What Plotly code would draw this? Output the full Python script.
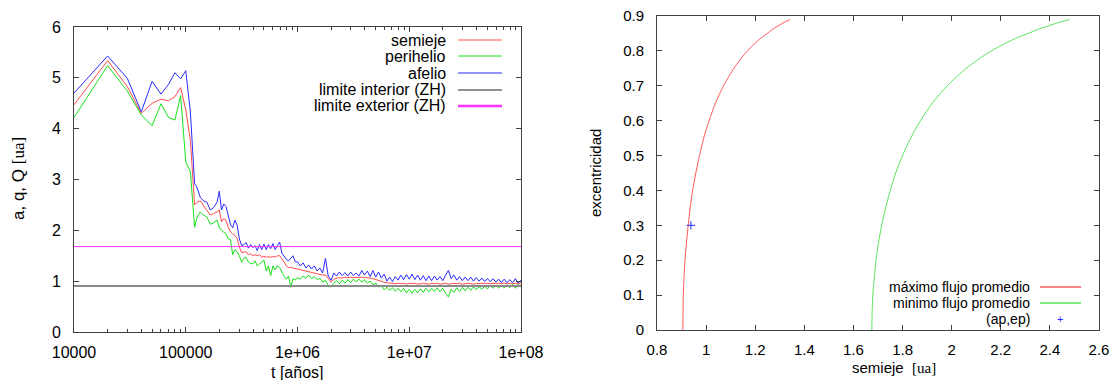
import plotly.graph_objects as go

# ---------------- Left panel data ----------------
t_early = [1e4, 2e4, 3e4, 4e4, 5e4, 6e4, 7e4, 8e4, 9e4, 1e5, 1.1e5, 1.2e5]
logt_late = [5.10, 5.13, 5.16, 5.19, 5.22, 5.25, 5.28, 5.30, 5.32, 5.34, 5.36, 5.38, 5.40, 5.42,
             5.44, 5.46, 5.48, 5.50, 5.52, 5.54, 5.56, 5.58, 5.60, 5.62, 5.64, 5.66, 5.68, 5.70,
             5.72, 5.74, 5.76, 5.78, 5.80, 5.82, 5.84, 5.86, 5.88, 5.90, 5.92, 5.94, 5.96, 5.98,
             6.000, 6.025, 6.050, 6.075, 6.100, 6.125, 6.150, 6.175, 6.200, 6.225, 6.250, 6.275,
             6.300, 6.325, 6.350, 6.375, 6.400, 6.425, 6.450, 6.475, 6.500, 6.525, 6.550, 6.575,
             6.600, 6.625, 6.650, 6.675, 6.700, 6.725, 6.750, 6.775, 6.800, 6.825, 6.850, 6.875,
             6.900, 6.925, 6.950, 6.975, 7.000, 7.025, 7.050, 7.075, 7.100, 7.125, 7.150, 7.175,
             7.200, 7.225, 7.250, 7.275, 7.300, 7.325, 7.350, 7.375, 7.400, 7.425, 7.450, 7.475,
             7.500, 7.525, 7.550, 7.575, 7.600, 7.625, 7.650, 7.675, 7.700, 7.725, 7.750, 7.775,
             7.800, 7.825, 7.850, 7.875, 7.900, 7.925, 7.950, 7.975, 8.000]

semieje = [4.47, 5.34, 4.83, 4.30, 4.50, 4.58, 4.55, 4.63, 4.81, 4.37, 3.77, 2.50,
           2.55, 2.58, 2.48, 2.40, 2.30, 2.33, 2.36, 2.40, 2.17, 2.23, 2.20, 2.06, 1.97, 1.93,
           1.90, 1.84, 1.67, 1.56, 1.57, 1.58, 1.52, 1.54, 1.50, 1.52, 1.50, 1.52, 1.47, 1.49,
           1.47, 1.48, 1.47, 1.49, 1.47, 1.50, 1.50, 1.45, 1.38, 1.30, 1.27, 1.27, 1.26, 1.25,
           1.24, 1.22, 1.21, 1.19, 1.18, 1.17, 1.16, 1.15, 1.14, 1.12, 1.12, 1.05,
           0.98, 1.04, 1.05, 1.07, 1.06, 1.08, 1.07, 1.08, 1.07, 1.08, 1.07, 1.08,
           1.07, 1.07, 1.06, 1.05, 1.03, 1.02, 1.00, 0.98, 0.97, 0.96, 0.96, 0.95,
           0.96, 0.95, 0.96, 0.94, 0.96, 0.95, 0.96, 0.94, 0.95, 0.96, 0.95, 0.94,
           0.96, 0.95, 0.96, 0.94, 0.95, 0.96, 0.94, 0.95, 0.96, 0.95, 0.96, 0.94,
           0.95, 0.96, 0.95, 0.94, 0.96, 0.95, 0.96, 0.95, 0.96, 0.95, 0.96, 0.95,
           0.96, 0.95, 0.96, 0.95, 0.96, 0.95, 0.96, 0.95, 0.96]

perihelio = [4.22, 5.24, 4.74, 4.27, 4.06, 4.49, 4.22, 4.17, 4.65, 3.35, 3.15, 2.06,
             2.25, 2.36, 2.30, 2.26, 2.12, 2.15, 2.20, 2.06, 2.00, 1.96, 1.93, 1.83, 1.82, 1.52,
             1.62, 1.58, 1.50, 1.37, 1.45, 1.47, 1.38, 1.35, 1.34, 1.40, 1.30, 1.34, 1.38, 1.41,
             1.20, 1.30, 1.11, 1.30, 1.22, 1.30, 1.27, 1.17, 1.10, 1.04, 1.10, 0.88, 1.05, 1.02,
             1.07, 1.04, 1.10, 1.06, 1.12, 1.05, 1.09, 1.03, 1.06, 0.98, 1.02, 0.92,
             0.88, 0.96, 1.01, 0.95, 1.02, 0.96, 1.03, 0.97, 1.04, 0.99, 1.04, 0.98,
             1.03, 0.96, 1.00, 0.93, 0.96, 0.88, 0.92, 0.83, 0.88, 0.82, 0.87, 0.80,
             0.86, 0.79, 0.86, 0.77, 0.84, 0.76, 0.84, 0.77, 0.85, 0.78, 0.86, 0.79,
             0.86, 0.80, 0.87, 0.79, 0.86, 0.76, 0.69, 0.84, 0.78, 0.87, 0.80, 0.88,
             0.81, 0.88, 0.82, 0.89, 0.83, 0.89, 0.84, 0.90, 0.85, 0.91, 0.86, 0.92,
             0.86, 0.92, 0.87, 0.93, 0.87, 0.94, 0.86, 0.94, 0.88]

afelio = [4.70, 5.43, 4.99, 4.33, 4.93, 4.68, 4.87, 5.10, 4.98, 5.14, 4.33, 2.92,
          2.85, 2.65, 2.58, 2.55, 2.40, 2.45, 2.55, 2.77, 2.40, 2.52, 2.47, 2.26, 2.12, 2.05,
          2.20, 2.10, 1.83, 1.70, 1.72, 1.76, 1.65, 1.72, 1.66, 1.70, 1.60, 1.72, 1.62, 1.73,
          1.62, 1.72, 1.64, 1.74, 1.62, 1.70, 1.77, 1.55, 1.48, 1.43, 1.40, 1.45, 1.50, 1.38,
          1.38, 1.30, 1.36, 1.26, 1.32, 1.24, 1.30, 1.20, 1.26, 1.16, 1.45, 1.10,
          1.02, 1.16, 1.10, 1.18, 1.11, 1.17, 1.10, 1.18, 1.11, 1.16, 1.10, 1.21,
          1.12, 1.20, 1.09, 1.21, 1.08, 1.18, 1.06, 1.14, 1.00, 1.08, 0.99, 1.09,
          1.02, 1.12, 1.03, 1.13, 1.04, 1.14, 1.03, 1.12, 1.02, 1.11, 1.01, 1.10,
          1.01, 1.10, 1.02, 1.09, 1.01, 1.12, 1.21, 1.05, 1.12, 1.02, 1.09, 1.01,
          1.08, 1.01, 1.08, 1.00, 1.07, 1.00, 1.06, 0.99, 1.05, 0.99, 1.05, 0.98,
          1.04, 0.97, 1.04, 0.97, 1.03, 0.97, 1.05, 0.96, 1.02]

limite_interior = 0.905
limite_exterior = 1.68
x_tickvals = [1e4, 1e5, 1e6, 1e7, 1e8]
x_ticktext = ["10000", "100000", "1e+06", "1e+07", "1e+08"]
x_minor_tickvals = [m * d for d in [1e4, 1e5, 1e6, 1e7] for m in [2, 3, 4, 5, 6, 7, 8, 9]]

# ---------------- Right panel data ----------------
exc = [0.0, 0.05, 0.10, 0.15, 0.20, 0.25, 0.30, 0.35, 0.40, 0.45, 0.50, 0.55, 0.60,
       0.65, 0.70, 0.75, 0.76, 0.78, 0.80, 0.82, 0.84, 0.85, 0.86, 0.87, 0.88, 0.89]
a_max_flujo = [0.905, 0.906, 0.907, 0.910, 0.914, 0.920, 0.927, 0.935, 0.945, 0.958, 0.973,
               0.990, 1.012, 1.038, 1.071, 1.113, 1.123, 1.144, 1.168, 1.196, 1.229, 1.249,
               1.267, 1.289, 1.313, 1.342]
a_min_flujo = [1.675, 1.676, 1.679, 1.685, 1.692, 1.702, 1.715, 1.731, 1.750, 1.772, 1.800,
               1.833, 1.873, 1.921, 1.982, 2.059, 2.078, 2.117, 2.162, 2.214, 2.274, 2.312,
               2.345, 2.386, 2.430, 2.480]
ap = [0.938]
ep = [0.30]

# ---------------- figure ----------------
W, H = 1111, 380
SANS = "Liberation Sans, Arial, sans-serif"
RED, GREEN, BLUE = "#ff4c4c", "#18e018", "#2a2aff"
RED2, GREEN2 = "#ff5a5a", "#5ce65c"
FRAME = "#404040"

def px(x):
    return x / W

def py(y):
    return 1 - y / H

t_all = t_early + [10 ** v for v in logt_late]

fig = go.Figure()
fig.add_trace(go.Scatter(x=t_all, y=semieje, mode="lines", line=dict(color=RED, width=1),
                         name="semieje", xaxis="x", yaxis="y"))
fig.add_trace(go.Scatter(x=t_all, y=perihelio, mode="lines", line=dict(color=GREEN, width=1),
                         name="perihelio", xaxis="x", yaxis="y"))
fig.add_trace(go.Scatter(x=t_all, y=afelio, mode="lines", line=dict(color=BLUE, width=1),
                         name="afelio", xaxis="x", yaxis="y"))
fig.add_trace(go.Scatter(x=[1e4, 1e8], y=[limite_interior] * 2, mode="lines",
                         line=dict(color="#8a8a8a", width=2),
                         name="limite interior (ZH)", xaxis="x", yaxis="y"))
fig.add_trace(go.Scatter(x=[1e4, 1e8], y=[limite_exterior] * 2, mode="lines",
                         line=dict(color="#ff33ff", width=1),
                         name="limite exterior (ZH)", xaxis="x", yaxis="y"))

fig.add_trace(go.Scatter(x=a_max_flujo, y=exc, mode="lines",
                         line=dict(color=RED2, width=1, shape="spline", smoothing=0.8),
                         name="máximo flujo promedio", xaxis="x2", yaxis="y2"))
fig.add_trace(go.Scatter(x=a_min_flujo, y=exc, mode="lines",
                         line=dict(color=GREEN2, width=1, shape="spline", smoothing=0.8),
                         name="minimo flujo promedio", xaxis="x2", yaxis="y2"))
fig.add_trace(go.Scatter(x=ap, y=ep, mode="markers",
                         marker=dict(symbol="cross-thin", size=6, line=dict(color="#2a2aff", width=1)),
                         name="(ap,ep)", xaxis="x2", yaxis="y2"))

axis_common = dict(showline=True, linecolor=FRAME, linewidth=1, mirror="allticks",
                   ticks="inside", tickcolor=FRAME, showgrid=False, zeroline=False,
                   automargin=False)

fig.update_layout(
    width=W, height=H, autosize=False,
    margin=dict(l=0, r=0, t=0, b=0, autoexpand=False),
    paper_bgcolor="white", plot_bgcolor="white",
    showlegend=False,
    xaxis=dict(axis_common, type="log", range=[4, 8], domain=[px(74), px(521)],
               tickvals=x_tickvals, ticktext=x_ticktext, ticklen=5,
               tickfont=dict(family=SANS, size=16, color="#000"), ticklabelstandoff=6,
               minor=dict(ticks="inside", ticklen=3, tickcolor=FRAME, showgrid=False,
                          tickmode="array", tickvals=x_minor_tickvals),
               anchor="y"),
    yaxis=dict(axis_common, range=[0, 6], dtick=1, domain=[py(332), py(27)], ticklen=5,
               tickfont=dict(family=SANS, size=16, color="#000"), ticklabelstandoff=9,
               anchor="x"),
    xaxis2=dict(axis_common, range=[0.8, 2.6], dtick=0.2, domain=[px(657), px(1099)], ticklen=5,
                tickfont=dict(family=SANS, size=15, color="#000"), ticklabelstandoff=6,
                anchor="y2"),
    yaxis2=dict(axis_common, range=[0, 0.9], dtick=0.1, domain=[py(330), py(16)], ticklen=5,
                tickfont=dict(family=SANS, size=15, color="#000"), ticklabelstandoff=9,
                anchor="x2"),
)

ann = []
# axis titles
ann.append(dict(text='a, q, Q <span style="font-family:Liberation Serif">[ua]</span>',
                x=px(18), y=py(179), xref="paper", yref="paper", textangle=-90, showarrow=False,
                font=dict(family=SANS, size=17, color="#000"), xanchor="center", yanchor="middle"))
ann.append(dict(text="t [años]", x=px(297), y=py(372), xref="paper", yref="paper", showarrow=False,
                font=dict(family=SANS, size=16, color="#000"), xanchor="center", yanchor="middle"))
ann.append(dict(text='semieje  <span style="font-family:Liberation Serif">[ua]</span>',
                x=px(894), y=py(367), xref="paper", yref="paper", showarrow=False,
                font=dict(family=SANS, size=15, color="#000"), xanchor="center", yanchor="middle"))
ann.append(dict(text="excentricidad", x=px(595), y=py(173), xref="paper", yref="paper",
                textangle=-90, showarrow=False,
                font=dict(family=SANS, size=15, color="#000"), xanchor="center", yanchor="middle"))

# legend (gnuplot style: text right-aligned, sample to the right)
left_legend = [("semieje", RED, 1, 40), ("perihelio", GREEN, 1, 56), ("afelio", BLUE, 1, 73),
               ("limite interior (ZH)", "#222222", 1, 90), ("limite exterior (ZH)", "#ff33ff", 2.5, 106)]
shapes = []
for name, col, w, yy in left_legend:
    ann.append(dict(text=name, x=px(447), y=py(yy), xref="paper", yref="paper", showarrow=False,
                    xanchor="right", yanchor="middle", borderpad=0,
                    font=dict(family=SANS, size=16, color="#000")))
    shapes.append(dict(type="line", xref="paper", yref="paper", x0=px(458), x1=px(502),
                       y0=py(yy), y1=py(yy), line=dict(color=col, width=w)))

right_legend = [("máximo flujo promedio", RED2, 287), ("minimo flujo promedio", GREEN2, 303)]
for name, col, yy in right_legend:
    ann.append(dict(text=name, x=px(1031), y=py(yy), xref="paper", yref="paper", showarrow=False,
                    xanchor="right", yanchor="middle", borderpad=0,
                    font=dict(family=SANS, size=14, color="#000")))
    shapes.append(dict(type="line", xref="paper", yref="paper", x0=px(1040), x1=px(1081),
                       y0=py(yy), y1=py(yy), line=dict(color=col, width=1.5)))
ann.append(dict(text="(ap,ep)", x=px(1031), y=py(319), xref="paper", yref="paper", showarrow=False,
                xanchor="right", yanchor="middle", borderpad=0,
                font=dict(family=SANS, size=14, color="#000")))
ann.append(dict(text="+", x=px(1060), y=py(319), xref="paper", yref="paper", showarrow=False,
                xanchor="center", yanchor="middle", borderpad=0,
                font=dict(family=SANS, size=11, color="#2a2aff")))

fig.update_layout(annotations=ann, shapes=shapes)
fig.write_html("out.html")
